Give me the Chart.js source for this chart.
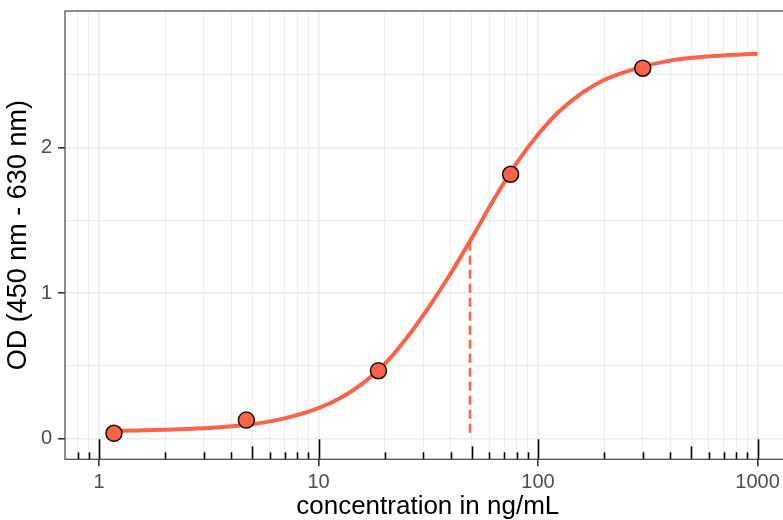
<!DOCTYPE html>
<html>
<head>
<meta charset="utf-8">
<script src="https://cdn.jsdelivr.net/npm/chart.js@4.4.0/dist/chart.umd.min.js"></script>
<style>
  html, body { margin: 0; padding: 0; background: #fff; overflow: hidden; }
  #grafico { display: block; }
</style>
</head>
<body>
<canvas id="grafico" width="800" height="520"></canvas>
<script>
// Puntos medidos (diluciones 1:4)
const concPuntos = [1.17, 4.69, 18.75, 75, 300];
const odPuntos = [0.037, 0.128, 0.467, 1.817, 2.546];

// Curva ajustada
const concCurva = [1.17, 1.5, 2, 3, 4, 5, 7, 10, 13, 16, 20, 25, 32, 40, 50, 63, 80, 100,
                   125, 160, 200, 250, 320, 400, 500, 630, 800, 1000];
const odCurva = [0.054, 0.057, 0.061, 0.071, 0.085, 0.10, 0.14, 0.21, 0.292, 0.384, 0.512, 0.685,
                 0.91, 1.135, 1.38, 1.645, 1.895, 2.09, 2.25, 2.38, 2.465, 2.52, 2.567, 2.598,
                 2.617, 2.63, 2.639, 2.645];

// Linea punteada del EC50
const concEC50 = [49, 49];
const odEC50 = [0.04, 1.35];

// Etiquetas y lineas de grilla
const etiquetasX = [1, 10, 100, 1000];
const grillaX = [0.8, 0.9, 1, 2, 3, 4, 5, 6, 7, 8, 9, 10, 20, 30, 40, 50, 60, 70, 80, 90, 100,
                 200, 300, 400, 500, 600, 700, 800, 900, 1000];
const etiquetasY = [0, 1, 2];
const grillaY = [0, 0.5, 1, 1.5, 2, 2.5];

// Marcas logaritmicas (annotation_logticks)
const logLargas = [1, 10, 100, 1000];
const logMedias = [5, 50, 500];
const logCortas = [0.8, 0.9, 2, 3, 4, 6, 7, 8, 9, 20, 30, 40, 60, 70, 80, 90,
                   200, 300, 400, 600, 700, 800, 900];

const tomate = '#FF6347';
const fuente = "'Liberation Sans', Arial, sans-serif";

const aPuntos = (xs, ys) => xs.map((x, i) => ({ x: x, y: ys[i] }));

// quita el relleno que Chart.js agrega por las etiquetas
function sinRelleno(escala) {
    escala.paddingTop = 0;
    escala.paddingBottom = 0;
    escala.paddingLeft = 0;
    escala.paddingRight = 0;
}

// Plugin: borde del panel y marcas log abajo
const panelPlugin = {
    id: 'panel',
    afterDatasetsDraw(chart) {
        const { ctx, chartArea, scales } = chart;
        const abajo = chartArea.bottom;
        ctx.save();
        ctx.strokeStyle = '#000';
        ctx.lineWidth = 1.6;
        const marcar = (valores, largo) => {
            valores.forEach(v => {
                const px = Math.round(scales.x.getPixelForValue(v)) + 0.5;
                ctx.beginPath();
                ctx.moveTo(px, abajo);
                ctx.lineTo(px, abajo - largo);
                ctx.stroke();
            });
        };
        marcar(logCortas, 7);
        marcar(logMedias, 13);
        marcar(logLargas, 20);
        ctx.strokeStyle = '#444';
        ctx.lineWidth = 1.2;
        ctx.strokeRect(chartArea.left, chartArea.top, chartArea.right - chartArea.left, chartArea.bottom - chartArea.top);
        ctx.restore();
    }
};

const config = {
    type: 'line',
    data: {
        datasets: [
            {
                label: 'puntos',
                data: aPuntos(concPuntos, odPuntos),
                showLine: false,
                pointRadius: 8,
                pointBackgroundColor: tomate,
                pointBorderColor: '#111',
                pointBorderWidth: 1.5,
                order: 0
            },
            {
                label: 'curva',
                data: aPuntos(concCurva, odCurva),
                borderColor: tomate,
                borderWidth: 4,
                pointRadius: 0,
                cubicInterpolationMode: 'monotone',
                order: 1
            },
            {
                label: 'ec50',
                data: aPuntos(concEC50, odEC50),
                borderColor: tomate,
                borderWidth: 2.5,
                borderDash: [9, 5],
                pointRadius: 0,
                order: 2
            }
        ]
    },
    options: {
        responsive: false,
        animation: false,
        layout: { padding: { top: 11, right: 9.3, left: 0, bottom: 0 } },
        plugins: {
            legend: { display: false },
            tooltip: { enabled: false }
        },
        scales: {
            x: {
                type: 'logarithmic',
                min: 0.708,
                max: 1413,
                afterBuildTicks: (escala) => { escala.ticks = grillaX.map(v => ({ value: v })); },
                afterFit: (escala) => { escala.height = 60.7; sinRelleno(escala); },
                border: { display: false },
                grid: {
                    color: '#EBEBEB',
                    lineWidth: (c) => etiquetasX.includes(c.tick && c.tick.value) ? 1.6 : 0.9,
                    tickLength: 7,
                    tickColor: (c) => etiquetasX.includes(c.tick && c.tick.value) ? '#333' : 'rgba(0,0,0,0)',
                    tickWidth: 1.6
                },
                ticks: {
                    autoSkip: false,
                    maxRotation: 0,
                    padding: 4,
                    color: '#4D4D4D',
                    font: { family: fuente, size: 20 },
                    callback: (v) => etiquetasX.includes(v) ? String(v) : ''
                },
                title: {
                    display: true,
                    text: 'concentration in ng/mL',
                    color: '#000',
                    font: { family: fuente, size: 26, lineHeight: 1 },
                    padding: { top: 0, bottom: 0 }
                }
            },
            y: {
                min: -0.1416,
                max: 2.939,
                afterBuildTicks: (escala) => { escala.ticks = grillaY.map(v => ({ value: v })); },
                afterFit: (escala) => { escala.width = 65; sinRelleno(escala); },
                border: { display: false },
                grid: {
                    color: '#EBEBEB',
                    lineWidth: (c) => etiquetasY.includes(c.tick && c.tick.value) ? 1.6 : 0.9,
                    tickLength: 7,
                    tickColor: (c) => etiquetasY.includes(c.tick && c.tick.value) ? '#333' : 'rgba(0,0,0,0)',
                    tickWidth: 1.6
                },
                ticks: {
                    autoSkip: false,
                    padding: 6,
                    color: '#4D4D4D',
                    font: { family: fuente, size: 20 },
                    callback: (v) => etiquetasY.includes(v) ? String(v) : ''
                },
                title: {
                    display: true,
                    text: 'OD (450 nm - 630 nm)',
                    color: '#000',
                    font: { family: fuente, size: 27, lineHeight: 1 },
                    padding: { top: 5, bottom: 0 }
                }
            }
        }
    },
    plugins: [panelPlugin]
};

new Chart(document.getElementById('grafico'), config);
</script>
</body>
</html>
